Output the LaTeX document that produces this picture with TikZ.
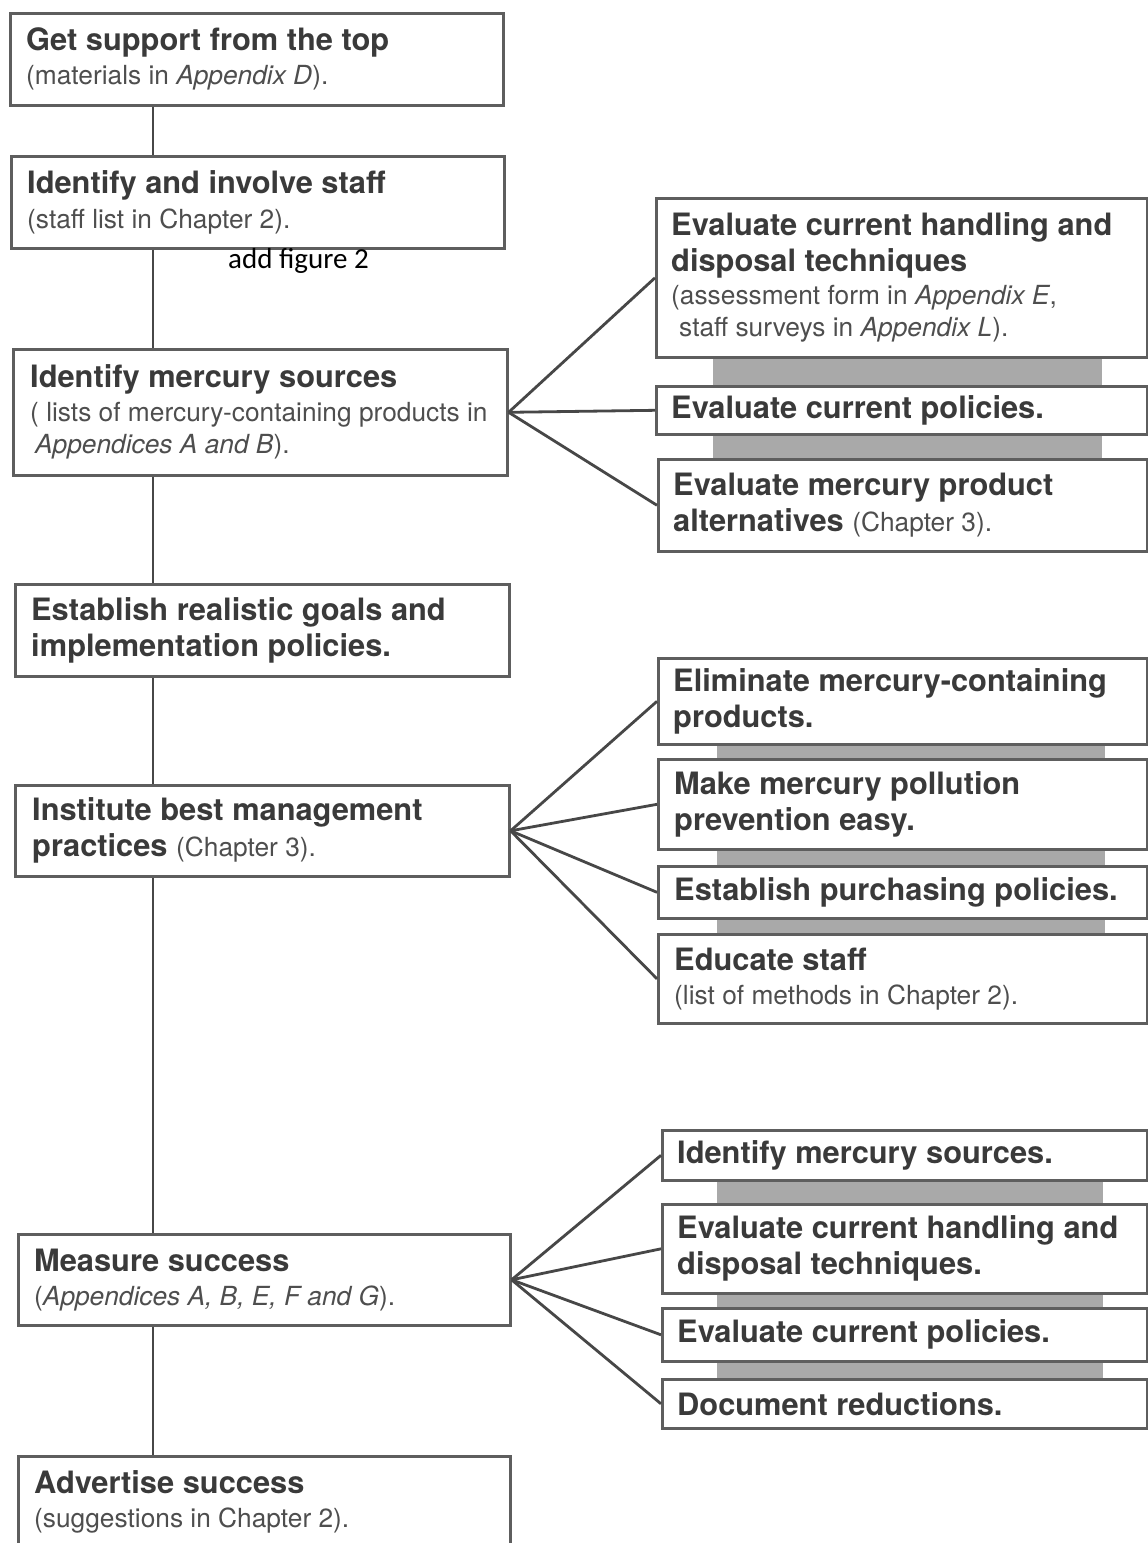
\documentclass[tikz,border=0pt]{standalone}
\usepackage{fontspec}
\setmainfont{TeX Gyre Heros}
\newfontfamily\notefont{Carlito}
\definecolor{boxgray}{HTML}{5E5E5E}
\definecolor{linegray}{HTML}{474747}
\definecolor{txtdark}{HTML}{3A3A3A}
\definecolor{txtsub}{HTML}{4E4E4E}
\definecolor{bargray}{HTML}{A9A9A9}
\newcommand\mysubfont{\fontsize{26.3}{32}\selectfont\mdseries\color{txtsub}}
\begin{document}
\begin{tikzpicture}[x=1pt,y=-1pt,
  box/.style={draw=boxgray, line width=2.6pt, fill=white, inner sep=0pt, anchor=north west},
  tx/.style={anchor=west, align=left, inner sep=0pt, text=txtdark,
             font=\fontsize{30.8}{36}\selectfont\bfseries},
  conn/.style={draw=linegray, line width=2.8pt}]
\useasboundingbox (0,0) rectangle (1148,1543);
\clip (0,0) rectangle (1148,1543);
\fill[white] (0,0) rectangle (1148,1543);

% grey bars behind right-hand groups
\fill[bargray] (713,277) rectangle (1102,504);
\fill[bargray] (717,700) rectangle (1105,977);
\fill[bargray] (717,1154) rectangle (1103,1402);

\coordinate (spine) at (153,0);

% left column
\node[box, minimum width=493pt, minimum height=92pt] (b1) at (9,12) {};
\node[box, minimum width=493pt, minimum height=92pt] (b2) at (10,155) {};
\node[box, minimum width=494pt, minimum height=126pt] (b3) at (12,348) {};
\node[box, minimum width=494pt, minimum height=92pt] (b4) at (14,583) {};
\node[box, minimum width=494pt, minimum height=91pt] (b5) at (14,784) {};
\node[box, minimum width=492pt, minimum height=91pt] (b6) at (17,1233) {};
\node[box, minimum width=492pt, minimum height=100pt] (b7) at (17,1455) {};

% right column
\node[box, minimum width=491pt, minimum height=159pt] (a1) at (655,197) {};
\node[box, minimum width=491pt, minimum height=48pt] (a2) at (655,385) {};
\node[box, minimum width=489pt, minimum height=92pt] (a3) at (657,458) {};
\node[box, minimum width=489pt, minimum height=86pt] (g1) at (657,657) {};
\node[box, minimum width=489pt, minimum height=90pt] (g2) at (657,758) {};
\node[box, minimum width=489pt, minimum height=52pt] (g3) at (657,865) {};
\node[box, minimum width=489pt, minimum height=89pt] (g4) at (657,933) {};
\node[box, minimum width=485pt, minimum height=50pt] (c1) at (661,1129) {};
\node[box, minimum width=485pt, minimum height=89pt] (c2) at (661,1203) {};
\node[box, minimum width=485pt, minimum height=53pt] (c3) at (661,1307) {};
\node[box, minimum width=485pt, minimum height=49pt] (c4) at (661,1378) {};

% texts
\node[tx] (b1t) at ([xshift=17pt]b1.west) {Get support from the top\\[-2pt]
  \mysubfont (materials in \textit{Appendix D}).};
\node[tx] (b2t) at ([xshift=17pt]b2.west) {Identify and involve staff\\[-1pt]
  \mysubfont (staff list in Chapter 2).};
\node[tx] (b3t) at ([xshift=18pt]b3.west) {Identify mercury sources\\[-2pt]
  \mysubfont ( lists of mercury-containing products in\\[-4pt]
  \mysubfont \hspace{5pt}\textit{Appendices A and B}).};
\node[tx] (b4t) at ([xshift=17pt]b4.west) {Establish realistic goals and\\
  implementation policies.};
\node[tx] (b5t) at ([xshift=18pt]b5.west) {Institute best management\\
  practices {\mysubfont (Chapter 3).}};
\node[tx] (b6t) at ([xshift=17pt]b6.west) {Measure success\\[-2pt]
  \mysubfont (\textit{Appendices A, B, E, F and G}).};
\node[tx] (b7t) at ([xshift=17pt,yshift=4pt]b7.west) {Advertise success\\[-2pt]
  \mysubfont (suggestions in Chapter 2).};

\node[tx] (a1t) at ([xshift=16pt]a1.west) {Evaluate current handling and\\
  disposal techniques\\[-3pt]
  \mysubfont (assessment form in \textit{Appendix E},\\[-4pt]
  \mysubfont \hspace{8pt}staff surveys in \textit{Appendix L}).};
\node[tx] (a2t) at ([xshift=16pt]a2.west) {Evaluate current policies.};
\node[tx] (a3t) at ([xshift=16pt]a3.west) {Evaluate mercury product\\
  alternatives {\mysubfont (Chapter 3).}};
\node[tx] (g1t) at ([xshift=16pt]g1.west) {Eliminate mercury-containing\\
  products.};
\node[tx] (g2t) at ([xshift=17pt]g2.west) {Make mercury pollution\\
  prevention easy.};
\node[tx] (g3t) at ([xshift=17pt]g3.west) {Establish purchasing policies.};
\node[tx] (g4t) at ([xshift=17pt]g4.west) {Educate staff\\[-2pt]
  \mysubfont (list of methods in Chapter 2).};
\node[tx] (c1t) at ([xshift=16pt]c1.west) {Identify mercury sources.};
\node[tx] (c2t) at ([xshift=16pt]c2.west) {Evaluate current handling and\\
  disposal techniques.};
\node[tx] (c3t) at ([xshift=16pt]c3.west) {Evaluate current policies.};
\node[tx] (c4t) at ([xshift=16pt]c4.west) {Document reductions.};

% spine connectors
\draw[conn] (b1.south -| spine) -- (b2.north -| spine);
\draw[conn] (b2.south -| spine) -- (b3.north -| spine);
\draw[conn] (b3.south -| spine) -- (b4.north -| spine);
\draw[conn] (b4.south -| spine) -- (b5.north -| spine);
\draw[conn] (b5.south -| spine) -- (b6.north -| spine);
\draw[conn] (b6.south -| spine) -- (b7.north -| spine);

% branch connectors
\draw[conn] (b3.east) -- (a1.west);
\draw[conn] (b3.east) -- (a2.west);
\draw[conn] (b3.east) -- (a3.west);
\draw[conn] (b5.east) -- (g1.west);
\draw[conn] (b5.east) -- (g2.west);
\draw[conn] (b5.east) -- (g3.west);
\draw[conn] (b5.east) -- (g4.west);
\draw[conn] (b6.east) -- (c1.west);
\draw[conn] (b6.east) -- (c2.west);
\draw[conn] (b6.east) -- (c3.west);
\draw[conn] (b6.east) -- (c4.west);

% note
\node[anchor=base west, inner sep=0pt, font=\notefont\fontsize{29}{34}\selectfont, text=black]
  (note) at (228,268) {add figure 2};
\end{tikzpicture}
\end{document}
